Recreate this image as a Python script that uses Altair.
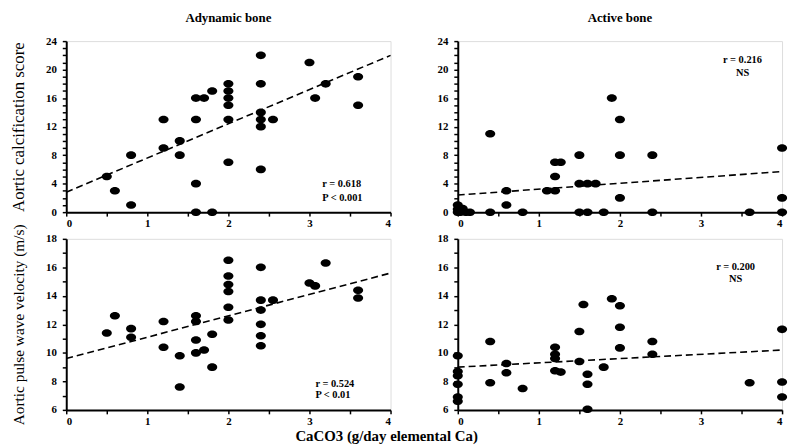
import altair as alt
import pandas as pd

# ---------------- data ----------------
# Adynamic bone - aortic calcification score
ady_calc_x = [0.5, 0.6, 0.8, 0.8, 1.2, 1.2, 1.4, 1.4, 1.6, 1.6, 1.6, 1.6, 1.7, 1.8, 1.8,
              2.0, 2.0, 2.0, 2.0, 2.0, 2.0, 2.4, 2.4, 2.4, 2.4, 2.4, 2.4, 2.55, 3.0, 3.07,
              3.2, 3.6, 3.6]
ady_calc_y = [5, 3, 8, 1, 13, 9, 10, 8, 16, 13, 4, 0, 16, 17, 0,
              18, 17, 16, 15, 13, 7, 22, 18, 14, 13, 12, 6, 13, 21, 16,
              18, 19, 15]

# Active bone - aortic calcification score
act_calc_x = [0, 0, 0, 0.03, 0.06, 0.1, 0.15, 0.4, 0.4, 0.6, 0.6, 0.8, 1.1, 1.2, 1.2,
              1.2, 1.27, 1.5, 1.5, 1.5, 1.6, 1.6, 1.7, 1.8, 1.9, 2.0, 2.0, 2.0, 2.4, 2.4,
              3.6, 4.0, 4.0, 4.0]
act_calc_y = [1, 0.4, 0, 0, 0.5, 0, 0, 11, 0, 3, 1, 0, 3, 3, 5,
              7, 7, 8, 4, 0, 4, 0, 4, 0, 16, 13, 8, 2, 8, 0,
              0, 9, 2, 0]

# Adynamic bone - aortic pulse wave velocity
ady_pwv_x = [0.5, 0.6, 0.8, 0.8, 1.2, 1.2, 1.4, 1.4, 1.6, 1.6, 1.6, 1.6, 1.7, 1.8, 1.8,
             2.0, 2.0, 2.0, 2.0, 2.0, 2.0, 2.4, 2.4, 2.4, 2.4, 2.4, 2.4, 2.55, 3.0, 3.07,
             3.2, 3.6, 3.6]
ady_pwv_y = [11.4, 12.6, 11.7, 11.1, 12.2, 10.4, 9.8, 7.6, 12.6, 12.2, 10.9, 10.0, 10.2, 11.3, 9.0,
             16.5, 15.4, 14.8, 14.3, 13.2, 12.3, 16.0, 13.7, 13.0, 12.0, 11.2, 10.5, 13.7, 14.9, 14.7,
             16.3, 14.4, 13.85]

# Active bone - aortic pulse wave velocity
act_pwv_x = [0, 0, 0, 0, 0, 0, 0.4, 0.4, 0.6, 0.6, 0.8, 1.2, 1.2, 1.2, 1.2, 1.27,
             1.5, 1.5, 1.55, 1.6, 1.6, 1.6, 1.8, 1.9, 2.0, 2.0, 2.0, 2.4, 2.4,
             3.6, 4.0, 4.0, 4.0]
act_pwv_y = [9.8, 8.7, 8.4, 7.8, 6.9, 6.6, 10.8, 7.9, 9.25, 8.6, 7.5, 10.4, 9.9, 9.6, 8.75, 8.65,
             11.5, 9.4, 13.4, 8.5, 7.8, 6.05, 9.0, 13.8, 13.3, 11.8, 10.35, 10.8, 9.9,
             7.9, 11.65, 7.95, 6.9]

# dashed regression lines: y at x = 0 and x = 4
fit_x = [0, 4]
ady_calc_fit = [2.8, 22.0]
act_calc_fit = [2.4, 5.7]
ady_pwv_fit = [9.6, 15.6]
act_pwv_fit = [9.0, 10.2]

# statistics labels
ady_calc_stats = ["r = 0.618", "P < 0.001"]
act_calc_stats = ["r = 0.216", "NS"]
ady_pwv_stats = ["r = 0.524", "P < 0.01"]
act_pwv_stats = ["r = 0.200", "NS"]

panel_titles = ["Adynamic bone", "Active bone"]
y_titles = ["Aortic calcification score", "Aortic pulse wave velocity (m/s)"]
x_title = "CaCO3 (g/day elemental Ca)"

# ---------------- styling ----------------
FONT = "Liberation Serif"
W, H = 328, 173
ELLIPSE = "M -1.2 0 A 1.2 0.9 0 1 0 1.2 0 A 1.2 0.9 0 1 0 -1.2 0 Z"


def axis_common(**kw):
    return alt.Axis(
        grid=False, domainColor="black", domainWidth=2, tickColor="black",
        tickWidth=1.5, tickSize=4, tickCount=200, labelFont=FONT,
        labelFontWeight="bold", labelFontSize=11, labelColor="black",
        labelOverlap=False, titleFont=FONT, titleColor="black",
        titleFontWeight="normal", **kw)


def panel(xs, ys, fit, domain, label_every, ytitle, ytitle_size, title,
          stats, stats_x, stats_y, stats_align):
    pts = pd.DataFrame({"x": xs, "y": ys})
    line = pd.DataFrame({"x": fit_x, "y": fit})
    xscale = alt.Scale(domain=[0, 4], nice=False, zero=False)
    yscale = alt.Scale(domain=domain, nice=False, zero=False)
    xaxis = axis_common(
        values=[i / 2 for i in range(9)],
        labelExpr="datum.value % 1 === 0 ? format(datum.value, 'd') : ''",
        labelPadding=2)
    yvals = list(range(domain[0], domain[1] + 1))
    ykw = dict(values=yvals,
               labelExpr=f"datum.value % {label_every} === 0 ? format(datum.value, 'd') : ''",
               labelPadding=6)
    if ytitle:
        ykw.update(titleX=-48, titleY=H / 2, titleAngle=270, titleAlign="center",
                   titleBaseline="middle", titleFontSize=ytitle_size)
    yaxis = axis_common(**ykw)

    x_enc = alt.X("x:Q", scale=xscale, axis=xaxis, title=None)
    if ytitle:
        y_enc = alt.Y("y:Q", scale=yscale, axis=yaxis, title=ytitle)
    else:
        y_enc = alt.Y("y:Q", scale=yscale, axis=yaxis, title=None)

    points = alt.Chart(pts).mark_point(
        shape=ELLIPSE, filled=True, size=72, color="black", opacity=1
    ).encode(x=x_enc, y=y_enc)

    trend = alt.Chart(line).mark_line(
        color="black", strokeDash=[7, 4], strokeWidth=1.6
    ).encode(x=alt.X("x:Q", scale=xscale), y=alt.Y("y:Q", scale=yscale))

    layers = [points, trend]
    for i, s in enumerate(stats):
        tdf = pd.DataFrame({"t": [s]})
        layers.append(
            alt.Chart(tdf).mark_text(
                font=FONT, fontWeight="bold", fontSize=10.5, color="black",
                align=stats_align, baseline="middle"
            ).encode(x=alt.value(stats_x), y=alt.value(stats_y[i]), text="t:N")
        )
    ch = alt.layer(*layers).properties(width=W, height=H)
    if title:
        ch = ch.properties(title=alt.TitleParams(
            title, font=FONT, fontSize=13, fontWeight="bold", color="black",
            anchor="middle", frame="group", offset=10))
    return ch


tl = panel(ady_calc_x, ady_calc_y, ady_calc_fit, [0, 24], 4, y_titles[0], 17,
           panel_titles[0], ady_calc_stats, 259, [145, 159], "left")
tr = panel(act_calc_x, act_calc_y, act_calc_fit, [0, 24], 4, None, 17,
           panel_titles[1], act_calc_stats, 288, [19, 32], "center")
bl = panel(ady_pwv_x, ady_pwv_y, ady_pwv_fit, [6, 18], 2, y_titles[1], 15.5,
           None, ady_pwv_stats, 252, [147, 158], "left")
br = panel(act_pwv_x, act_pwv_y, act_pwv_fit, [6, 18], 2, None, 15.5,
           None, act_pwv_stats, 281, [29, 41], "center")

chart = alt.concat(
    tl, tr, bl, br, columns=2, spacing={"row": 27, "column": 68}, bounds="flush"
).resolve_scale(x="independent", y="independent").properties(
    title=alt.TitleParams(x_title, orient="bottom", anchor="middle", font=FONT,
                          fontSize=15, fontWeight="bold", color="black",
                          offset=2, dx=-12)
).configure_view(strokeWidth=0).configure(
    padding={"left": 9, "top": 9, "right": 0, "bottom": 4},
    background="white")

chart.save("out.html", embed_options={"renderer": "svg", "actions": False})
